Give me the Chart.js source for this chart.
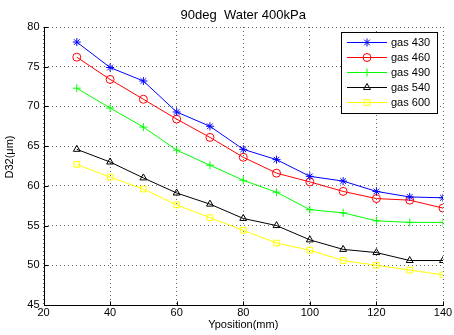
<!DOCTYPE html>
<html>
<head>
<meta charset="utf-8">
<script src="https://cdn.jsdelivr.net/npm/chart.js@4"></script>
<style>
  html, body { margin: 0; padding: 0; background: #fff; }
  #wrap { width: 454px; height: 335px; }
</style>
</head>
<body>
<div id="wrap"><canvas id="chart" width="454" height="335"></canvas></div>
<script>
const positions = [30, 40, 50, 60, 70, 80, 90, 100, 110, 120, 130, 140];
const gas430 = [78.1, 74.9, 73.2, 69.3, 67.5, 64.6, 63.3, 61.2, 60.6, 59.3, 58.6, 58.5];
const gas460 = [76.2, 73.4, 70.9, 68.4, 66.1, 63.6, 61.6, 60.5, 59.3, 58.4, 58.2, 57.2];
const gas490 = [72.3, 69.8, 67.4, 64.5, 62.6, 60.7, 59.2, 57.0, 56.6, 55.6, 55.4, 55.4];
const gas540 = [64.6, 63.0, 61.0, 59.1, 57.7, 55.9, 55.0, 53.2, 52.0, 51.6, 50.6, 50.6];
const gas600 = [62.7, 61.1, 59.6, 57.6, 56.0, 54.4, 52.8, 51.9, 50.6, 50.0, 49.4, 48.8];
const xTicks = [20, 40, 60, 80, 100, 120, 140];
const yTicks = [45, 50, 55, 60, 65, 70, 75, 80];

const FONT = "Liberation Sans, Arial, sans-serif";
const TITLE = "90deg  Water 400kPa";
const Y_TITLE = "D32(μm)";

function makeSet(label, values, color, style) {
  return {
    label: label,
    data: positions.map((x, i) => ({ x: x, y: values[i] })),
    borderColor: color,
    backgroundColor: "rgba(0,0,0,0)",
    pointBorderColor: color,
    pointBackgroundColor: "rgba(0,0,0,0)",
    pointStyle: style,
    pointRadius: 4,
    pointBorderWidth: 1,
    borderWidth: 1,
    tension: 0,
  };
}

// axes lines, inward ticks, titles and the in-plot legend, MATLAB style
const matlabBox = {
  id: "matlabBox",
  afterDraw(chart) {
    const ctx = chart.ctx;
    const a = chart.chartArea;
    const xs = chart.scales.x;
    const ys = chart.scales.y;
    const left = Math.round(a.left) + 0.5;
    const bottom = Math.round(a.bottom) + 0.5;
    ctx.save();
    ctx.strokeStyle = "#000";
    ctx.lineWidth = 1;
    ctx.beginPath();
    ctx.moveTo(left, Math.round(a.top));
    ctx.lineTo(left, bottom);
    ctx.lineTo(Math.round(a.right) + 1, bottom);
    xTicks.forEach((v) => {
      const px = Math.round(xs.getPixelForValue(v)) + 0.5;
      ctx.moveTo(px, bottom); ctx.lineTo(px, bottom - 4);
    });
    yTicks.forEach((v) => {
      const py = Math.round(ys.getPixelForValue(v)) + 0.5;
      ctx.moveTo(left, py); ctx.lineTo(left + 4, py);
    });
    ctx.stroke();

    // titles
    ctx.fillStyle = "#000";
    ctx.font = "13px " + FONT;
    ctx.textAlign = "center";
    ctx.textBaseline = "middle";
    ctx.fillText(TITLE, (a.left + a.right) / 2, 15);
    ctx.font = "11px " + FONT;
    ctx.translate(10, 157);
    ctx.rotate(-Math.PI / 2);
    ctx.fillText(Y_TITLE, 0, 0);
    ctx.setTransform(1, 0, 0, 1, 0, 0);

    // legend
    const lx = 341, ly = 32, lw = 96, lh = 81;
    ctx.fillStyle = "#fff";
    ctx.fillRect(lx, ly, lw, lh);
    ctx.strokeStyle = "#000";
    ctx.strokeRect(lx + 0.5, ly + 0.5, lw, lh);
    ctx.font = "11px " + FONT;
    ctx.textAlign = "left";
    chart.data.datasets.forEach((ds, i) => {
      const y = ly + 10.5 + i * 15;
      ctx.strokeStyle = ds.borderColor;
      ctx.beginPath();
      ctx.moveTo(lx + 6, y); ctx.lineTo(lx + 46, y);
      ctx.stroke();
      ctx.fillStyle = "rgba(0,0,0,0)";
      Chart.helpers.drawPoint(ctx, {
        pointStyle: ds.pointStyle, radius: 4, borderWidth: 1, rotation: 0,
      }, lx + 26, y);
      ctx.fillStyle = "#000";
      ctx.fillText(ds.label, lx + 50, y + 0.5);
    });
    ctx.restore();
  },
};

const canvas = document.querySelector("#chart");
new Chart(canvas, {
  type: "line",
  data: {
    datasets: [
      makeSet("gas 430", gas430, "#0000ff", "star"),
      makeSet("gas 460", gas460, "#ff0000", "circle"),
      makeSet("gas 490", gas490, "#00ff00", "cross"),
      makeSet("gas 540", gas540, "#000000", "triangle"),
      makeSet("gas 600", gas600, "#ffff00", "rect"),
    ],
  },
  options: {
    responsive: false,
    animation: false,
    layout: { padding: { left: 0, right: 11, top: 27, bottom: 0 } },
    plugins: {
      legend: { display: false },
      tooltip: { enabled: false },
    },
    scales: {
      x: {
        type: "linear",
        min: 20,
        max: 140,
        afterBuildTicks: (s) => { s.ticks = xTicks.map((v) => ({ value: v })); },
        afterFit: (s) => { s.height = 30; },
        ticks: { color: "#000", font: { family: FONT, size: 11 }, padding: 1, maxRotation: 0 },
        grid: { color: "rgba(0,0,0,0.6)", drawTicks: false, tickLength: 0 },
        border: { display: false, dash: [1, 3] },
        title: {
          display: true,
          text: "Yposition(mm)",
          color: "#000",
          font: { family: FONT, size: 11 },
          padding: { top: 0, bottom: 3 },
        },
      },
      y: {
        type: "linear",
        min: 45,
        max: 80,
        afterBuildTicks: (s) => { s.ticks = yTicks.map((v) => ({ value: v })); },
        afterFit: (s) => { s.width = 43.5; },
        ticks: { color: "#000", font: { family: FONT, size: 11 }, padding: 4 },
        grid: { color: "rgba(0,0,0,0.6)", drawTicks: false, tickLength: 0 },
        border: { display: false, dash: [1, 3] },
      },
    },
  },
  plugins: [matlabBox],
});
</script>
</body>
</html>
